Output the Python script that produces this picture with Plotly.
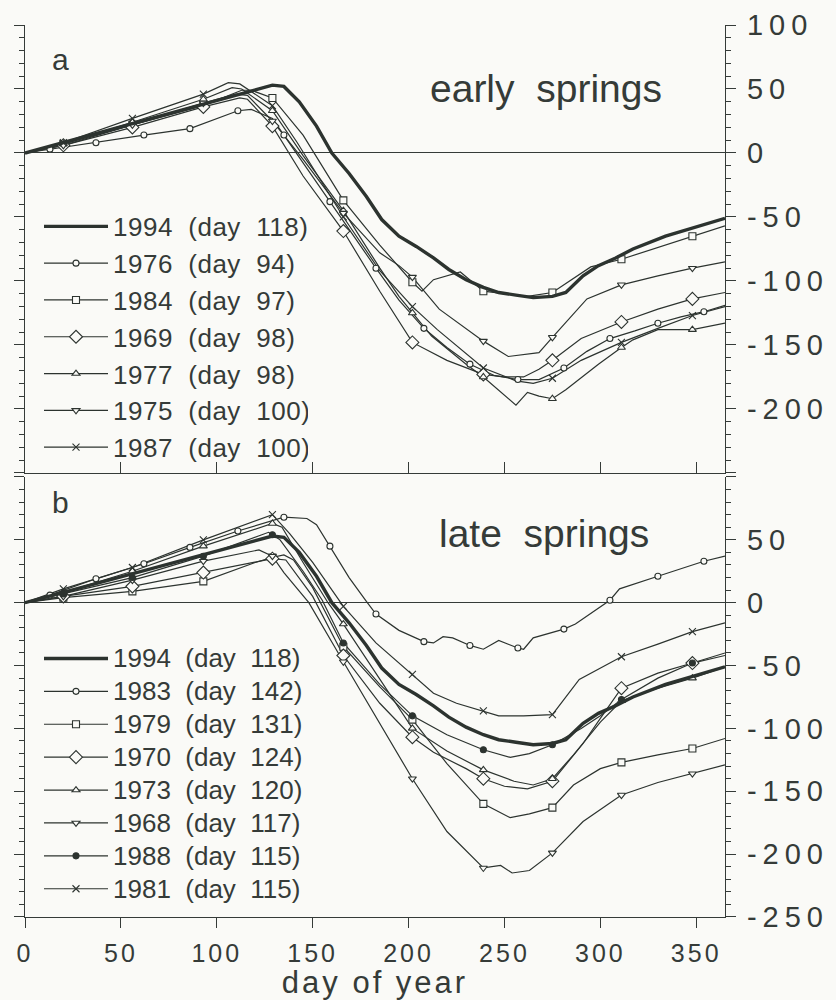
import numpy as np
import plotly.graph_objects as go

# ---------------------------------------------------------------- axes text
x_tickvals = [0, 50, 100, 150, 200, 250, 300, 350]
x_ticktext = ["0", "50", "100", "150", "200", "250", "300", "350"]
y_tickvals = [-250, -200, -150, -100, -50, 0, 50, 100]
ya_ticktext = ["", "-200", "-150", "-100", "-50", "0", "50", "100"]
yb_ticktext = ["-250", "-200", "-150", "-100", "-50", "0", "50", ""]

# days carrying a symbol (every 36.5 days; the circle series every ~24 days)
grid_days = [20, 56, 93, 129, 166, 202, 239, 275, 311, 348]
circle_days = [13, 37, 62, 86, 111, 135, 159, 183, 208, 232, 257, 281, 305, 330, 354]

# ---------------------------------------------------------------- 1994 (both panels)
d1994 = [0, 129, 135, 143, 152, 160, 169, 178, 186, 195, 204, 213, 221, 230, 239, 247,
         256, 265, 275, 282, 291, 299, 308, 317, 334, 352, 365]
v1994 = [0, 53, 52, 40, 21, 0, -16, -34, -52, -65, -73, -82, -91, -99, -105, -109,
         -111, -113, -112, -109, -96, -88, -82, -75, -65, -57, -51]

# ---------------------------------------------------------------- early springs
d1976 = [0, 13, 37, 62, 86, 111, 118, 129, 135, 146, 159, 170, 183, 195, 208, 220, 232,
         245, 257, 268, 281, 293, 305, 318, 330, 342, 354, 365]
v1976 = [0, 3, 8, 14, 19, 33, 34, 27, 14, -10, -38, -62, -90, -115, -137, -152, -165,
         -174, -177, -177, -168, -155, -145, -139, -133, -128, -124, -119]

d1984 = [0, 20, 56, 93, 113, 118, 129, 145, 166, 185, 202, 207, 213, 227, 239, 250, 262,
         275, 285, 295, 311, 330, 348, 365]
v1984 = [0, 7, 22, 37, 49, 49, 43, 14, -37, -72, -101, -108, -99, -93, -108, -110, -112,
         -109, -99, -89, -83, -74, -65, -57]

d1969 = [0, 20, 56, 93, 112, 116, 129, 145, 166, 185, 202, 220, 239, 250, 260, 268, 275,
         290, 311, 330, 348, 365]
v1969 = [0, 6, 20, 36, 43, 42, 21, -18, -61, -108, -148, -162, -173, -175, -175, -169, -162,
         -145, -132, -122, -114, -109]

d1977 = [0, 20, 56, 93, 108, 113, 129, 145, 166, 185, 195, 202, 212, 230, 239, 256, 262,
         268, 275, 282, 299, 311, 317, 330, 348, 365]
v1977 = [0, 7, 24, 42, 51, 50, 33, -2, -45, -90, -112, -125, -143, -165, -175, -197, -187,
         -190, -192, -185, -165, -152, -146, -138, -138, -133]

d1975 = [0, 20, 56, 93, 110, 116, 129, 145, 166, 185, 195, 202, 216, 239, 252, 268, 275,
         293, 311, 330, 348, 365]
v1975 = [0, 6, 22, 39, 46, 45, 25, -5, -47, -78, -88, -97, -122, -147, -159, -156, -144,
         -114, -103, -96, -90, -85]

d1987 = [0, 20, 56, 93, 106, 112, 129, 142, 166, 185, 202, 215, 239, 256, 265, 275, 290,
         311, 330, 348, 365]
v1987 = [0, 8, 27, 46, 55, 54, 37, 8, -50, -92, -120, -138, -168, -178, -180, -176, -162,
         -148, -137, -127, -120]

# ---------------------------------------------------------------- late springs
d1983 = [0, 13, 37, 62, 86, 111, 135, 147, 152, 159, 169, 178, 183, 195, 208, 213, 218,
         223, 232, 239, 247, 252, 257, 260, 265, 281, 287, 305, 310, 330, 354, 365]
v1983 = [0, 6, 19, 31, 44, 57, 68, 67, 62, 45, 20, 1, -9, -22, -31, -32, -27,
         -28, -34, -37, -30, -33, -36, -37, -28, -21, -17, 2, 11, 21, 33, 37]

d1979 = [0, 20, 56, 93, 120, 129, 135, 140, 150, 166, 185, 202, 220, 239, 253, 263, 275,
         286, 300, 311, 330, 348, 365]
v1979 = [0, 4, 9, 17, 32, 36, 38, 34, 12, -35, -67, -93, -128, -160, -171, -168, -163,
         -145, -132, -127, -121, -116, -108]

d1970 = [0, 20, 56, 93, 129, 136, 150, 166, 185, 202, 213, 230, 239, 250, 262, 275, 291,
         300, 311, 330, 348, 365]
v1970 = [0, 5, 13, 24, 35, 34, 5, -42, -80, -107, -119, -132, -140, -146, -148, -142, -112,
         -92, -68, -56, -48, -42]

d1973 = [0, 20, 56, 93, 129, 134, 145, 158, 166, 175, 202, 220, 239, 255, 265, 275, 286,
         300, 311, 330, 348, 365]
v1973 = [0, 8, 25, 45, 63, 60, 32, 0, -17, -38, -100, -118, -133, -142, -145, -140, -121,
         -95, -78, -68, -60, -51]

d1968 = [0, 20, 56, 93, 122, 129, 135, 148, 166, 185, 202, 220, 239, 248, 254, 263, 275,
         291, 311, 330, 348, 365]
v1968 = [0, 5, 18, 33, 42, 37, 24, 0, -47, -96, -140, -182, -211, -209, -215, -213, -199,
         -174, -153, -143, -136, -129]

d1988 = [0, 20, 56, 93, 127, 129, 133, 145, 155, 166, 185, 202, 220, 239, 253, 263, 275,
         290, 300, 311, 330, 348, 365]
v1988 = [0, 7, 20, 37, 56, 54, 50, 25, 2, -32, -65, -90, -105, -117, -123, -120, -113,
         -100, -90, -77, -60, -48, -40]

d1981 = [0, 20, 56, 93, 129, 138, 150, 166, 183, 202, 213, 225, 239, 247, 260, 275, 289,
         311, 330, 348, 365]
v1981 = [0, 11, 28, 50, 70, 55, 32, -3, -32, -57, -72, -80, -86, -90, -90, -89, -61,
         -43, -33, -23, -16]

# ---------------------------------------------------------------- styling
INK = "#353b38"
LINE = "#2c332f"
BG = "#fafaf7"
FONT = "Liberation Sans, Arial, Helvetica, sans-serif"
LEGEND_TEXT_PX = 26

SYMBOLS = {
    "circle": dict(symbol="circle", size=6, color=BG),
    "square": dict(symbol="square", size=7, color=BG),
    "diamond": dict(symbol="diamond", size=10, color=BG),
    "tri_up": dict(symbol="triangle-up", size=7, color=BG),
    "tri_down": dict(symbol="triangle-down", size=7, color=BG),
    "cross": dict(symbol="x-thin", size=7, color=LINE),
    "dot": dict(symbol="circle", size=6, color=LINE),
}

# (year, spring day, days, values, symbol, symbol days)
panel_a = [
    ("1976", 94, d1976, v1976, "circle", circle_days),
    ("1984", 97, d1984, v1984, "square", grid_days),
    ("1969", 98, d1969, v1969, "diamond", grid_days),
    ("1977", 98, d1977, v1977, "tri_up", grid_days),
    ("1975", 100, d1975, v1975, "tri_down", grid_days),
    ("1987", 100, d1987, v1987, "cross", grid_days),
]
panel_b = [
    ("1983", 142, d1983, v1983, "circle", circle_days),
    ("1979", 131, d1979, v1979, "square", grid_days),
    ("1970", 124, d1970, v1970, "diamond", grid_days),
    ("1973", 120, d1973, v1973, "tri_up", grid_days),
    ("1968", 117, d1968, v1968, "tri_down", grid_days),
    ("1988", 115, d1988, v1988, "dot", grid_days),
    ("1981", 115, d1981, v1981, "cross", grid_days),
]


def label(year, day, tight=False):
    text = f"{year}  (day  {day})"
    if tight:
        # the lower legend is packed tighter, but keeps the same text size
        return f'<span style="font-size:{LEGEND_TEXT_PX}px">{text}</span>'
    return text


def marker_style(key):
    s = SYMBOLS[key]
    return dict(symbol=s["symbol"], size=s["size"], color=s["color"],
                line=dict(color=LINE, width=1.1))


fig = go.Figure()

for series, xa, ya, leg in ((panel_a, "x", "y", "legend"), (panel_b, "x2", "y2", "legend2")):
    tight = leg == "legend2"
    # thin curves
    for year, day, d, v, sym, mdays in series:
        fig.add_trace(go.Scatter(x=d, y=v, mode="lines", xaxis=xa, yaxis=ya,
                                 line=dict(color=LINE, width=1.2), showlegend=False,
                                 hoverinfo="skip"))
    # symbols on the curves
    for year, day, d, v, sym, mdays in series:
        d_arr = np.array(d)
        v_arr = np.array(v)
        keep = np.isin(d_arr, mdays)
        fig.add_trace(go.Scatter(x=d_arr[keep], y=v_arr[keep], mode="markers",
                                 xaxis=xa, yaxis=ya, marker=marker_style(sym),
                                 showlegend=False, hoverinfo="skip"))
    # 1994 reference year on top
    fig.add_trace(go.Scatter(x=d1994, y=v1994, mode="lines", xaxis=xa, yaxis=ya,
                             line=dict(color=LINE, width=3.4), showlegend=False,
                             hoverinfo="skip"))
    # legend entries
    fig.add_trace(go.Scatter(x=[None], y=[None], mode="lines", xaxis=xa, yaxis=ya,
                             name=label("1994", 118, tight), legend=leg,
                             line=dict(color=LINE, width=3.4)))
    for year, day, d, v, sym, mdays in series:
        fig.add_trace(go.Scatter(x=[None], y=[None], mode="lines+markers", xaxis=xa,
                                 yaxis=ya, name=label(year, day, tight), legend=leg,
                                 line=dict(color=LINE, width=1.2),
                                 marker=marker_style(sym)))

common_x = dict(range=[0, 365], tickmode="array", tickvals=x_tickvals, showgrid=False,
                zeroline=False, showline=True, linecolor=INK, linewidth=1.3,
                tickcolor=INK, tickwidth=1.2, fixedrange=True)
common_y = dict(range=[-250, 100], side="right", tickmode="array", tickvals=y_tickvals,
                ticks="outside", ticklen=10, tickwidth=1.2, tickcolor=INK,
                showline=True, linecolor=INK, linewidth=1.3, mirror="ticks",
                zeroline=True, zerolinecolor=INK, zerolinewidth=1.2, showgrid=False,
                minor=dict(tickmode="linear", tick0=0, dtick=10, ticks="outside",
                           ticklen=5, tickcolor=INK, tickwidth=1),
                tickfont=dict(family=FONT, size=29, color=INK),
                ticklabelstandoff=5, fixedrange=True)

fig.update_layout(
    width=836, height=1000,
    margin=dict(l=25, r=111, t=25, b=83, autoexpand=False),
    paper_bgcolor=BG, plot_bgcolor=BG,
    font=dict(family=FONT, color=INK),
    xaxis=dict(common_x, anchor="y", ticks="inside", ticklen=11, showticklabels=False),
    xaxis3=dict(common_x, anchor="y", overlaying="x", side="top", ticks="outside",
                ticklen=12, showticklabels=False),
    xaxis2=dict(common_x, anchor="y2", ticks="outside", ticklen=10, ticktext=x_ticktext,
                tickfont=dict(family=FONT, size=25, color=INK), ticklabelstandoff=4,
                title=dict(text="day of year", font=dict(family=FONT, size=31, color=INK),
                           standoff=4)),
    xaxis4=dict(common_x, anchor="y2", overlaying="x2", side="top", ticks="inside",
                ticklen=11, showticklabels=False),
    yaxis=dict(common_y, domain=[0.4978, 1.0], anchor="x", ticktext=ya_ticktext),
    yaxis2=dict(common_y, domain=[0.0, 0.4933], anchor="x2", ticktext=yb_ticktext),
    legend=dict(x=0.02, y=0.8005, xanchor="left", yanchor="top", bgcolor="rgba(0,0,0,0)",
                font=dict(family=FONT, size=LEGEND_TEXT_PX, color=INK), itemwidth=64,
                tracegroupgap=0),
    legend2=dict(x=0.02, y=0.3139, xanchor="left", yanchor="top", bgcolor="rgba(0,0,0,0)",
                 font=dict(family=FONT, size=23, color=INK), itemwidth=64,
                 tracegroupgap=0),
    annotations=[
        dict(text="a", x=0.051, y=0.9613, xref="paper", yref="paper", showarrow=False,
             font=dict(size=30, color=INK), xanchor="center", yanchor="middle"),
        dict(text="b", x=0.051, y=0.4647, xref="paper", yref="paper", showarrow=False,
             font=dict(size=30, color=INK), xanchor="center", yanchor="middle"),
        dict(text="early  springs", x=0.744, y=0.929, xref="paper", yref="paper",
             showarrow=False, font=dict(size=39, color=INK), xanchor="center",
             yanchor="middle"),
        dict(text="late  springs", x=0.741, y=0.430, xref="paper", yref="paper",
             showarrow=False, font=dict(size=39, color=INK), xanchor="center",
             yanchor="middle"),
    ],
)

# typographic touches: spaced-out tick numerals and legend text
css = (".ytick text, .y2tick text {letter-spacing: 6px;} "
       ".x2tick text {letter-spacing: 3px;} .g-x2title text {letter-spacing: 3px;} "
       "text.legendtext {letter-spacing: 0.5px;}")
post = ("var s=document.createElement('style');s.textContent='" + css +
        "';document.head.appendChild(s);")
fig.write_html("out.html", post_script=post)
